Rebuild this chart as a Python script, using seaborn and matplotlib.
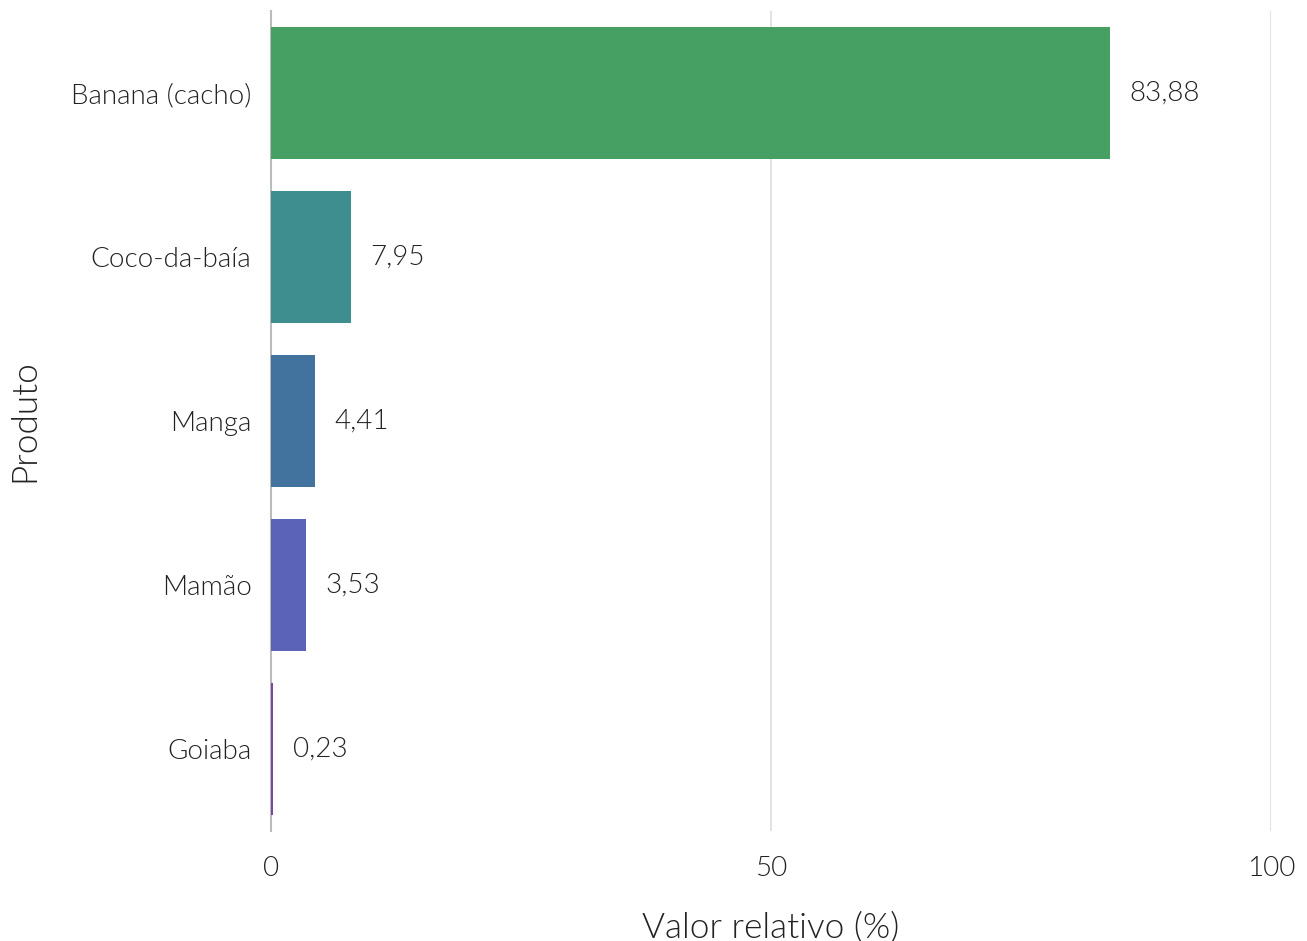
import matplotlib
matplotlib.use("Agg")
import matplotlib.pyplot as plt
from matplotlib import font_manager as fm
import seaborn as sns
import pandas as pd

# Dados do gráfico
produtos = ["Banana (cacho)", "Coco-da-baía", "Manga", "Mamão", "Goiaba"]
valores = [83.88, 7.95, 4.41, 3.53, 0.23]
cores = ["#47A063", "#3E8E8F", "#42739F", "#5B63B9", "#7B45A6"]

df = pd.DataFrame({"Produto": produtos, "Valor": valores})

sns.set_style("white")
plt.rcParams["font.family"] = ["Lato", "DejaVu Sans"]

# two Lato-Light files are installed; take the last one
lights = [f.fname for f in fm.fontManager.ttflist
          if f.name == "Lato" and f.weight == 300 and f.style == "normal"]
light_file = lights[-1]
txt = "#222222"

def fp(size):
    return fm.FontProperties(fname=light_file, size=size)

fig = plt.figure(figsize=(13.07, 9.41), dpi=100)
ax = fig.add_axes([271 / 1307, 1 - 831 / 941, 1000 / 1307, 820 / 941])

sns.barplot(data=df, x="Valor", y="Produto", hue="Produto", palette=cores,
            legend=False, width=0.8, saturation=1, linewidth=0, zorder=3, ax=ax)

for cont in ax.containers:
    ax.bar_label(cont, labels=[f"{v:.2f}".replace(".", ",") for v in cont.datavalues],
                 padding=14, color=txt, fontproperties=fp(20))

ax.set_xlim(0, 100)
ax.set_ylim(4.5, -0.5)
ax.set_xticks([0, 50, 100])
ax.grid(axis="x", color="#dddddd", linewidth=1.2)
ax.set_axisbelow(True)
for s in ["top", "right", "bottom"]:
    ax.spines[s].set_visible(False)
ax.spines["left"].set_color("#bbbbbb")
ax.spines["left"].set_linewidth(1.5)
ax.spines["left"].set_zorder(2)
ax.tick_params(axis="both", length=0, labelcolor=txt)
ax.tick_params(axis="y", pad=14)
ax.tick_params(axis="x", pad=18)
for lab in ax.get_xticklabels() + ax.get_yticklabels():
    lab.set_fontproperties(fp(20))
ax.set_xlabel("Valor relativo (%)", color=txt, labelpad=22, fontproperties=fp(25.3))
ax.set_ylabel("Produto", color=txt, labelpad=22, fontproperties=fp(25.3))

fig.savefig("out.png", dpi=100, facecolor="white")
